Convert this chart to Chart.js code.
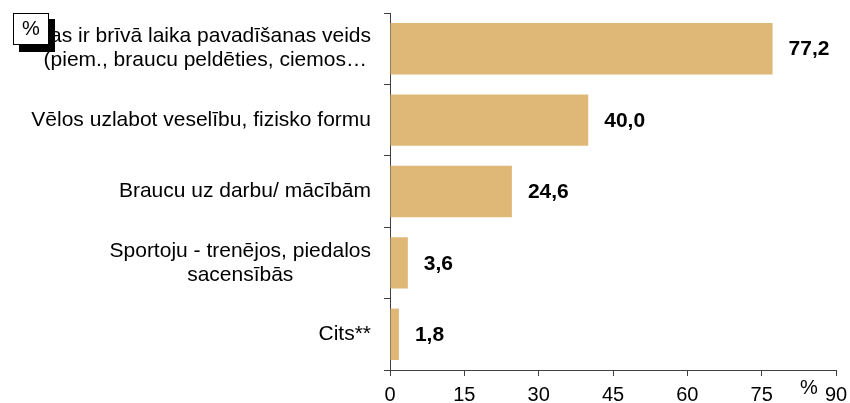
<!DOCTYPE html>
<html>
<head>
<meta charset="utf-8">
<script src="https://cdn.jsdelivr.net/npm/chart.js@4"></script>
<style>
  html, body { margin: 0; padding: 0; background: #fff; }
  #wrap { width: 850px; height: 403px; position: relative; }
</style>
</head>
<body>
<div id="wrap"><canvas id="chart"></canvas></div>
<script>
// data
const categories = [
  ['Tas ir brīvā laika pavadīšanas veids', '(piem., braucu peldēties, ciemos…'],
  ['Vēlos uzlabot veselību, fizisko formu'],
  ['Braucu uz darbu/ mācībām'],
  ['Sportoju - trenējos, piedalos', 'sacensībās'],
  ['Cits**']
];
const values = [77.2, 40.0, 24.6, 3.6, 1.8];
const xTicks = [0, 15, 30, 45, 60, 75, 90];

const FONT = 'Arial, "Liberation Sans", sans-serif';
const barColor = '#dfb877';

// category labels, lines centered within each label block
const catLabels = {
  id: 'catLabels',
  afterDraw(chart) {
    const ctx = chart.ctx, y = chart.scales.y;
    ctx.save();
    ctx.font = '21px ' + FONT;
    ctx.fillStyle = '#000';
    ctx.textAlign = 'center';
    ctx.textBaseline = 'middle';
    categories.forEach((lines, i) => {
      const cy = y.getPixelForValue(i);
      const w = Math.max(...lines.map(l => ctx.measureText(l).width));
      const cx = 371 - w / 2;
      const lh = 24;
      lines.forEach((l, j) => {
        ctx.fillText(l, cx, cy + (j - (lines.length - 1) / 2) * lh);
      });
    });
    ctx.restore();
  }
};

// bold values at bar ends
const valueLabels = {
  id: 'valueLabels',
  afterDatasetsDraw(chart) {
    const ctx = chart.ctx;
    const meta = chart.getDatasetMeta(0);
    ctx.save();
    ctx.font = 'bold 21px ' + FONT;
    ctx.fillStyle = '#000';
    ctx.textAlign = 'left';
    ctx.textBaseline = 'middle';
    meta.data.forEach((bar, i) => {
      ctx.fillText(values[i].toFixed(1).replace('.', ','), bar.x + 16, bar.y + 1);
    });
    ctx.restore();
  }
};

// "%" box top left and "%" unit near the x axis end
const extras = {
  id: 'extras',
  afterDraw(chart) {
    const ctx = chart.ctx, x = chart.scales.x;
    ctx.save();
    ctx.fillStyle = '#000';
    ctx.fillRect(19, 19, 36, 33);
    ctx.fillStyle = '#fff';
    ctx.fillRect(13, 13, 36, 32);
    ctx.strokeStyle = '#000';
    ctx.lineWidth = 1;
    ctx.strokeRect(13.5, 13.5, 35, 31);
    ctx.fillStyle = '#000';
    ctx.font = '20px ' + FONT;
    ctx.textAlign = 'center';
    ctx.textBaseline = 'middle';
    ctx.fillText('%', 31, 29);
    ctx.fillText('%', x.right - 27, 388);
    ctx.restore();
  }
};

new Chart(document.getElementById('chart'), {
  type: 'bar',
  data: {
    labels: categories,
    datasets: [{
      data: values,
      backgroundColor: barColor,
      borderWidth: 0,
      barPercentage: 0.72,
      categoryPercentage: 1
    }]
  },
  options: {
    indexAxis: 'y',
    responsive: true,
    maintainAspectRatio: false,
    animation: false,
    layout: { padding: { top: 13, right: 14, left: 0, bottom: 0 } },
    plugins: { legend: { display: false }, tooltip: { enabled: false } },
    scales: {
      x: {
        min: 0, max: 90,
        afterBuildTicks(axis) { axis.ticks = xTicks.map(v => ({ value: v })); },
        afterFit(axis) { axis.height = 33; axis.paddingLeft = 0; axis.paddingRight = 0; },
        border: { color: '#404040', width: 1 },
        grid: { drawOnChartArea: false, drawTicks: true, tickLength: 6, color: '#404040' },
        ticks: { color: '#000', font: { family: FONT, size: 20 }, padding: 7, maxRotation: 0 }
      },
      y: {
        afterFit(axis) { axis.width = 390; axis.paddingTop = 0; axis.paddingBottom = 0; },
        border: { color: '#404040', width: 1 },
        grid: { offset: true, drawOnChartArea: false, drawTicks: true, tickLength: 6, color: '#404040' },
        ticks: { color: 'rgba(0,0,0,0)', font: { family: FONT, size: 19 } }
      }
    }
  },
  plugins: [catLabels, valueLabels, extras]
});
</script>
</body>
</html>
